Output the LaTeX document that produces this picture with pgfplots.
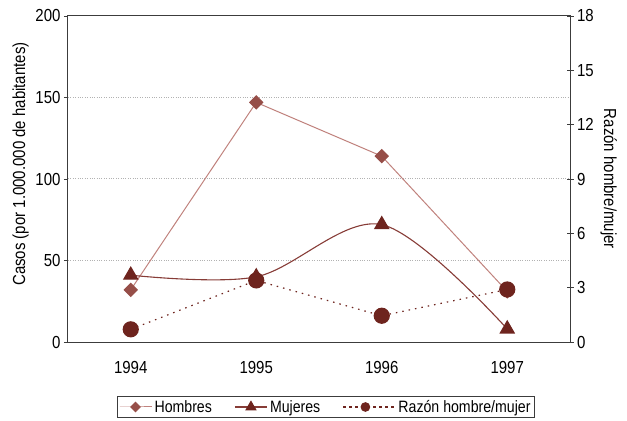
\documentclass[border=0pt]{standalone}
\usepackage{fontspec}
\setmainfont{Liberation Sans}[FakeStretch=0.86]
\usepackage{pgfplots}
\pgfplotsset{compat=1.18}
\definecolor{hline}{RGB}{192,130,125}
\definecolor{hmark}{RGB}{150,78,72}
\definecolor{mline}{RGB}{135,60,55}
\definecolor{dark}{RGB}{110,36,30}
\definecolor{axgray}{RGB}{60,60,60}
\begin{document}
\begin{tikzpicture}[font=\fontsize{17.5}{20}\selectfont]
\path[use as bounding box] (-68bp,-79bp) rectangle (559bp,342bp);
\begin{axis}[
  at={(0,0)}, anchor=south west, scale only axis,
  width=502bp, height=326bp,
  xmin=-0.5, xmax=3.5, ymin=0, ymax=200,
  xtick={0,1,2,3}, xticklabels={1994,1995,1996,1997},
  ytick={0,50,100,150,200},
  /pgf/number format/assume math mode=true,
  tick label style={font=\fontsize{17.5}{20}\selectfont},
  label style={font=\fontsize{17.5}{20}\selectfont},
  axis line style={axgray, line width=1bp},
  x tick style={draw=none},
  y tick style={axgray, line width=0.8bp},
  ytick pos=left, tick align=outside, major tick length=4bp,
  ymajorgrids, grid style={dotted, gray!60, line width=1bp},
  xticklabel style={yshift=-12bp},
  ylabel={Casos (por 1.000.000 de habitantes)},
  ylabel style={at={(ticklabel cs:0.555)}, xshift=-3bp},
]
\addplot[hline, line width=1bp, mark=square*, mark size=4.6bp,
  mark options={rotate=45, fill=hmark, draw=hmark}]
  coordinates {(0,32) (1,147) (2,114) (3,31)};
\addplot[mline, line width=1.1bp, smooth, tension=0.55, mark=triangle*, mark size=8bp,
  mark options={fill=dark, draw=dark}]
  coordinates {(0,41) (1,40) (2,72) (3,8)};
\end{axis}
\begin{axis}[
  at={(0,0)}, anchor=south west, scale only axis,
  width=502bp, height=326bp,
  xmin=-0.5, xmax=3.5, ymin=0, ymax=18,
  axis x line=none,
  axis y line*=right,
  ytick={0,3,6,9,12,15,18},
  /pgf/number format/assume math mode=true,
  tick label style={font=\fontsize{17.5}{20}\selectfont},
  label style={font=\fontsize{17.5}{20}\selectfont},
  axis line style={axgray, line width=1bp},
  y tick style={axgray, line width=0.8bp},
  tick align=center, major tick length=7bp,
  ylabel={Razón hombre/mujer},
  ylabel style={rotate=180},
  legend columns=3,
  legend style={at={(0.514,-0.165)}, anchor=north, draw=axgray, line width=0.8bp,
    inner sep=1.5bp, /tikz/every even column/.append style={column sep=20bp},
    nodes={inner sep=2.5bp},
    font=\fontsize{16.5}{18}\selectfont},
  legend image code/.code={\draw[mark repeat=2,mark phase=2] plot coordinates {(0bp,0bp)(16bp,0bp)(32bp,0bp)};},
  legend cell align=left,
]
\addlegendimage{hline, line width=1bp, mark=square*, mark size=3.3bp,
  mark options={rotate=45, fill=hmark, draw=hmark}}
\addlegendentry{Hombres}
\addlegendimage{mline, line width=1.1bp, mark=triangle*, mark size=5.5bp,
  mark options={fill=dark, draw=dark}}
\addlegendentry{Mujeres}
\addlegendimage{dark, line width=1.2bp, dash pattern=on 3bp off 3bp, mark=*, mark size=4.2bp,
  mark options={solid, fill=dark, draw=dark},
  legend image code/.code={\draw[mark repeat=2,mark phase=2] plot coordinates {(0bp,0bp)(22bp,0bp)(52bp,0bp)};}}
\addlegendentry{Razón hombre/mujer}
\addplot[dark, line width=1.2bp, dash pattern=on 1.5bp off 5bp, mark=*, mark size=7.5bp,
  mark options={solid, fill=dark, draw=dark}, forget plot]
  coordinates {(0,0.7) (1,3.4) (2,1.45) (3,2.9)};
\end{axis}
\end{tikzpicture}
\end{document}
